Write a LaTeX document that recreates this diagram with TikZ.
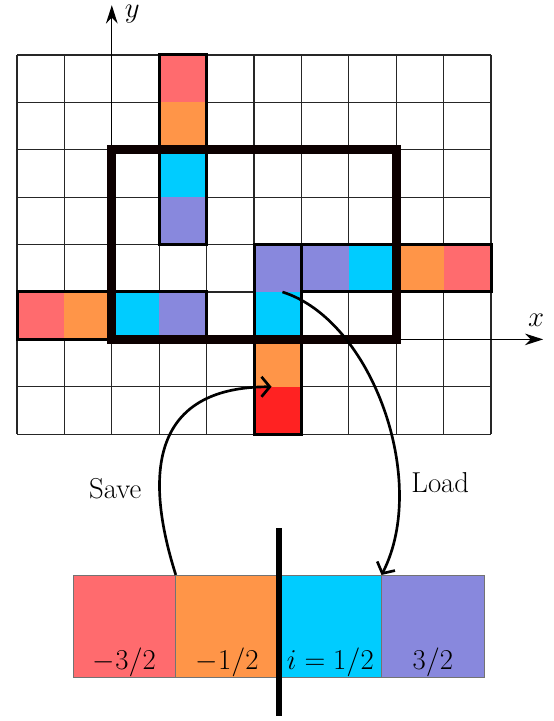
\documentclass[tikz,border=0pt]{standalone}
\usetikzlibrary{arrows.meta}
\definecolor{cRed}{RGB}{255,107,110}
\definecolor{cOrange}{RGB}{255,149,72}
\definecolor{cCyan}{RGB}{0,204,255}
\definecolor{cPurple}{RGB}{136,136,221}
\definecolor{cHot}{RGB}{255,34,34}
\definecolor{cFrame}{RGB}{12,0,0}
\begin{document}
\begin{tikzpicture}[
  gridline/.style={line width=0.7pt, black!85},
  cellbox/.style={line width=1.8pt, black},
  bigbox/.style={line width=5.4pt, cFrame},
  axis/.style={line width=0.6pt, -{Stealth[length=11pt,width=7pt]}},
  slot/.style={draw=black!55, line width=0.5pt, minimum width=2.17cm, minimum height=2.17cm, inner sep=0pt, outer sep=0pt},
  flow/.style={line width=1.6pt, -{Straight Barb[length=5pt,width=12pt,line width=1.6pt]}},
  lbl/.style={font=\LARGE, inner sep=1pt}
]
\useasboundingbox (-2.359,-8.051) rectangle (9.308,7.160);
% grid
\draw[gridline] (-2,-2) grid (8,6);
% vertical column at x=1..2
\fill[cRed] (1,5) rectangle (2,6);
\fill[cOrange] (1,4) rectangle (2,5);
\fill[cCyan] (1,3) rectangle (2,4);
\fill[cPurple] (1,2) rectangle (2,3);
% left row y=0..1
\fill[cRed] (-2,0) rectangle (-1,1);
\fill[cOrange] (-1,0) rectangle (0,1);
\fill[cCyan] (0,0) rectangle (1,1);
\fill[cPurple] (1,0) rectangle (2,1);
% right row y=1..2
\fill[cPurple] (4,1) rectangle (5,2);
\fill[cCyan] (5,1) rectangle (6,2);
\fill[cOrange] (6,1) rectangle (7,2);
\fill[cRed] (7,1) rectangle (8,2);
% vertical column at x=3..4
\fill[cPurple] (3,1) rectangle (4,2);
\fill[cCyan] (3,0) rectangle (4,1);
\fill[cOrange] (3,-1) rectangle (4,0);
\fill[cHot] (3,-2) rectangle (4,-1);
% axes
\coordinate (O) at (0,0);
\coordinate (xend) at (9.1,0);
\coordinate (yend) at (0,7.05);
\draw[axis] (O) -- (xend);
\draw[axis] (O) -- (yend);
\node[lbl] (xlab) at (8.95,0.41) {$x$};
\node[lbl] (ylab) at (0.43,6.87) {$y$};
% outlines
\draw[cellbox] (1,2) rectangle (2,6);
\draw[cellbox] (-2,0) rectangle (2,1);
\draw[cellbox] (4,1) rectangle (8,2);
\draw[cellbox] (3,-2) rectangle (4,2);
% big frame
\draw[bigbox] (0,0) rectangle (6,4);
% bottom slots
\node[slot, fill=cRed] (b1) at (0.265,-6.055) {};
\node[slot, fill=cOrange] (b2) at (2.435,-6.055) {};
\node[slot, fill=cCyan] (b3) at (4.605,-6.055) {};
\node[slot, fill=cPurple] (b4) at (6.775,-6.055) {};
% divider bar
\coordinate (bartop) at (3.52,-3.98);
\coordinate (barbot) at (3.52,-7.94);
\draw[line width=3.6pt] (bartop) -- (barbot);
\node[lbl, anchor=base] (l1) at (0.265,-6.97) {$-3/2$};
\node[lbl, anchor=base] (l2) at (2.435,-6.97) {$-1/2$};
\node[lbl, anchor=base] (l3) at (4.61,-6.97) {$i=1/2$};
\node[lbl, anchor=base] (l4) at (6.775,-6.97) {$3/2$};
% save / load arrows
\coordinate (savetip) at (3.37,-1);
\coordinate (loadsrc) at (3.6,1.0);
\draw[flow] (b1.north east) .. controls (0.6,-2.6) and (1.0,-1.0) .. (savetip);
\draw[flow] (loadsrc) .. controls (5.5,0.4) and (6.7,-3.0) .. (b3.north east);
\node[lbl] (save) at (0.07,-3.14) {Save};
\node[lbl] (load) at (6.93,-3.03) {Load};
\end{tikzpicture}
\end{document}
